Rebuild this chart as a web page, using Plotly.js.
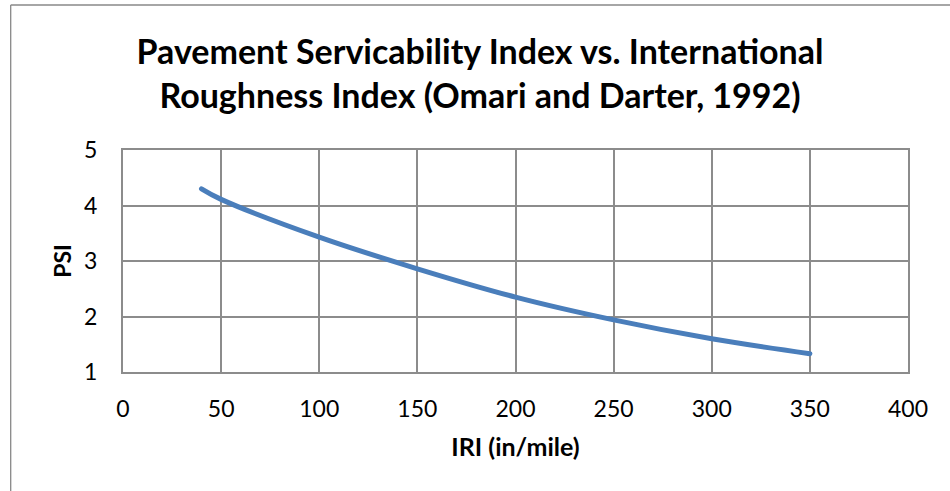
<!DOCTYPE html>
<html>
<head>
<meta charset="utf-8">
<script src="https://cdn.plot.ly/plotly-3.0.1.min.js"></script>
<style>
  html, body { margin: 0; padding: 0; background: #fff; }
  #chart { width: 950px; height: 491px; }
  #chart .scatterlayer path.js-line { stroke-linecap: round; }
</style>
</head>
<body>
<div id="chart"></div>
<script>
// Data
const iri = [40, 50, 100, 150, 200, 250, 300, 350];
const psi = [4.30, 4.11, 3.43, 2.86, 2.35, 1.94, 1.60, 1.33];
const xTicks = [0, 50, 100, 150, 200, 250, 300, 350, 400];
const yTicks = [1, 2, 3, 4, 5];

const chartTitle = 'Pavement Servicability Index vs. International<br>Roughness Index (Omari and Darter, 1992)';
const xTitle = 'IRI (in/mile)';
const yTitle = 'PSI';

const FONT = 'Lato, "Open Sans", sans-serif';
const GRID = '#8c8c8c';

const W = 950, H = 491;
const M = { l: 123, r: 42, t: 150, b: 119 };
const pw = W - M.l - M.r, ph = H - M.t - M.b;
// convert pixel positions to paper coordinates for the outer chart border
const px = x => (x - M.l) / pw;
const py = y => (H - M.b - y) / ph;

const trace = {
  x: iri,
  y: psi,
  type: 'scatter',
  mode: 'lines',
  line: { color: '#4A7EBB', width: 5, shape: 'spline', smoothing: 1 },
  hoverinfo: 'x+y'
};

const layout = {
  width: W,
  height: H,
  margin: M,
  paper_bgcolor: '#ffffff',
  plot_bgcolor: '#ffffff',
  showlegend: false,
  font: { family: FONT, color: '#000000', size: 22 },
  title: {
    text: chartTitle,
    font: { family: FONT, size: 34, color: '#000000', weight: 'bold' },
    x: px(480),
    xref: 'paper',
    xanchor: 'center',
    y: 1 - 64 / H,
    yref: 'container',
    yanchor: 'middle'
  },
  xaxis: {
    range: [0, 400],
    tickvals: xTicks,
    ticktext: xTicks.map(String),
    showgrid: true,
    gridcolor: GRID,
    gridwidth: 2,
    showline: true,
    linecolor: GRID,
    linewidth: 2,
    mirror: true,
    ticks: '',
    ticklabelstandoff: 15,
    zeroline: false,
    tickfont: { family: FONT, size: 23, color: '#000000' },
    title: { text: xTitle, font: { family: FONT, size: 25, color: '#000000', weight: 'bold' }, standoff: 18 }
  },
  yaxis: {
    range: [1, 5],
    tickvals: yTicks,
    ticktext: yTicks.map(String),
    showgrid: true,
    gridcolor: GRID,
    gridwidth: 2,
    showline: true,
    linecolor: GRID,
    linewidth: 2,
    mirror: true,
    ticks: '',
    ticklabelstandoff: 19,
    zeroline: false,
    tickfont: { family: FONT, size: 23, color: '#000000' },
    title: { text: yTitle, font: { family: FONT, size: 23, color: '#000000', weight: 'bold' }, standoff: 6 }
  },
  shapes: [
    { type: 'line', xref: 'paper', yref: 'paper', x0: px(10.7), x1: px(10.7), y0: py(5), y1: py(500),
      line: { color: '#888888', width: 1.3 } },
    { type: 'line', xref: 'paper', yref: 'paper', x0: px(10.7), x1: px(960), y0: py(5), y1: py(5),
      line: { color: '#888888', width: 1.3 } }
  ]
};

Plotly.newPlot('chart', [trace], layout, { displayModeBar: false, staticPlot: true });
</script>
</body>
</html>
